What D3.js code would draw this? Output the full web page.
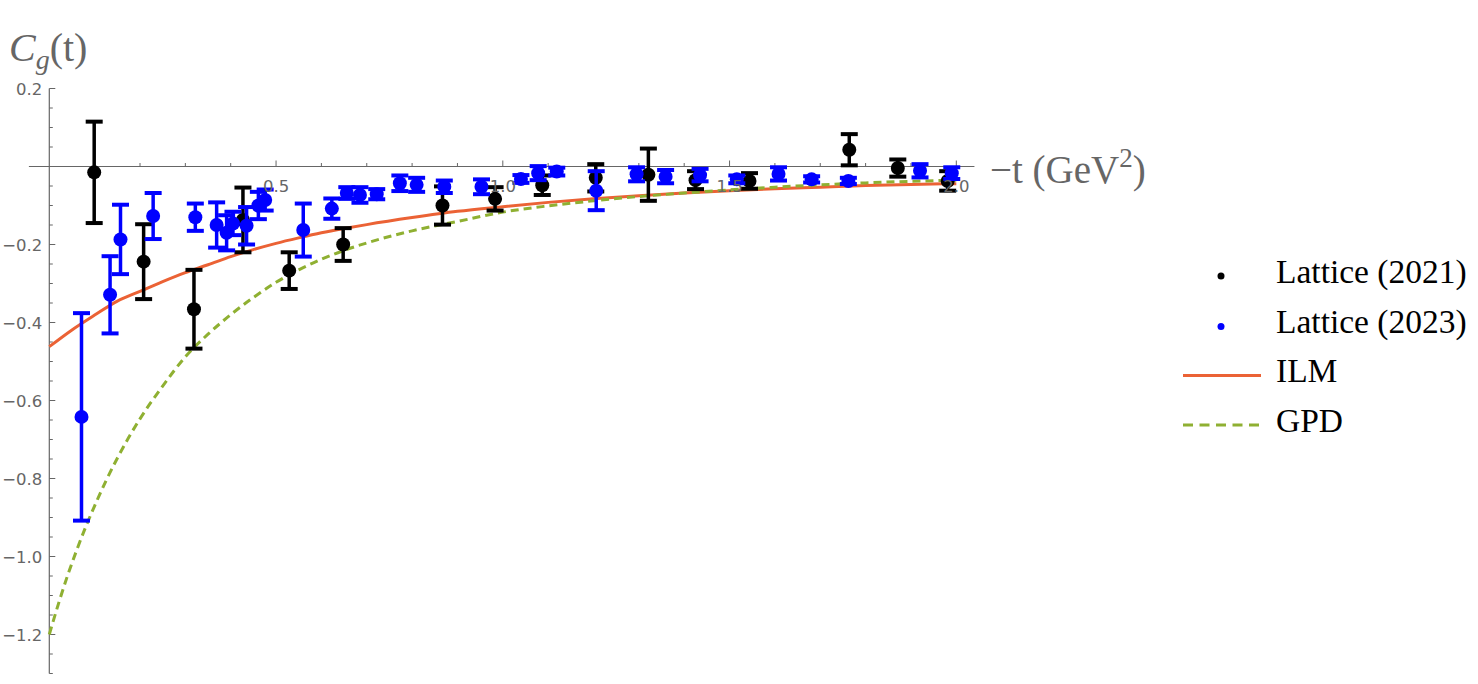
<!DOCTYPE html>
<html>
<head>
<meta charset="utf-8">
<script src="https://cdn.jsdelivr.net/npm/d3@7"></script>
<style>
  body { margin: 0; background: #fff; }
  svg { display: block; }
</style>
</head>
<body>
<svg id="chart" width="1478" height="684"></svg>
<script>
// Lattice (2021): -t in GeV^2, C_g, error
const lat2021T   = [0.099, 0.208, 0.319, 0.427, 0.529, 0.648, 0.867, 0.983, 1.087, 1.205, 1.321, 1.425, 1.544, 1.764, 1.871, 1.981];
const lat2021C   = [-0.015, -0.244, -0.366, -0.137, -0.267, -0.200, -0.100, -0.083, -0.048, -0.029, -0.021, -0.035, -0.037, 0.043, -0.004, -0.037];
const lat2021Err = [0.130, 0.096, 0.101, 0.083, 0.047, 0.042, 0.049, 0.030, 0.025, 0.035, 0.067, 0.023, 0.020, 0.040, 0.022, 0.025];

// Lattice (2023)
const lat2023T   = [0.071, 0.134, 0.157, 0.229, 0.322, 0.369, 0.391, 0.405, 0.435, 0.461, 0.476, 0.560, 0.623, 0.656, 0.685, 0.722,
                    0.773, 0.810, 0.871, 0.953, 1.040, 1.078, 1.119, 1.206, 1.295, 1.359, 1.435, 1.516, 1.608, 1.681, 1.762, 1.920, 1.990];
const lat2023C   = [-0.642, -0.329, -0.187, -0.127, -0.130, -0.150, -0.170, -0.146, -0.152, -0.100, -0.086, -0.163, -0.108, -0.068, -0.073, -0.071,
                    -0.043, -0.047, -0.052, -0.052, -0.032, -0.017, -0.013, -0.062, -0.020, -0.026, -0.022, -0.033, -0.019, -0.033, -0.037, -0.011, -0.017];
const lat2023Err = [0.266, 0.099, 0.089, 0.059, 0.035, 0.058, 0.045, 0.030, 0.048, 0.035, 0.027, 0.068, 0.026, 0.015, 0.020, 0.013,
                    0.020, 0.018, 0.016, 0.019, 0.010, 0.018, 0.010, 0.050, 0.018, 0.017, 0.016, 0.010, 0.017, 0.008, 0.008, 0.017, 0.015];

// ILM curve
const ilmT = [0, 0.05, 0.1, 0.15, 0.2, 0.25, 0.3, 0.35, 0.4, 0.45, 0.5, 0.55, 0.6, 0.65, 0.7, 0.8, 0.9, 1.0, 1.1, 1.2, 1.3, 1.4, 1.5, 1.6, 1.7, 1.8, 1.9, 2.0];
const ilmC = [-0.462, -0.419, -0.381, -0.345, -0.320, -0.295, -0.272, -0.252, -0.231, -0.213, -0.197, -0.183, -0.170, -0.159, -0.149,
              -0.131, -0.115, -0.103, -0.092, -0.083, -0.075, -0.068, -0.062, -0.057, -0.053, -0.049, -0.046, -0.044];

// GPD curve
const gpdT = [0, 0.02, 0.04, 0.06, 0.08, 0.1, 0.125, 0.15, 0.175, 0.2, 0.25, 0.3, 0.35, 0.4, 0.45, 0.5, 0.55, 0.6, 0.65, 0.7, 0.8, 0.9,
              1.0, 1.1, 1.2, 1.3, 1.4, 1.5, 1.6, 1.7, 1.8, 1.9, 2.0];
const gpdC = [-1.200, -1.122, -1.050, -0.985, -0.925, -0.870, -0.806, -0.748, -0.695, -0.647, -0.563, -0.488, -0.430, -0.380, -0.336,
              -0.297, -0.265, -0.238, -0.215, -0.196, -0.165, -0.141, -0.117, -0.101, -0.088, -0.077, -0.068, -0.060, -0.053, -0.047,
              -0.042, -0.038, -0.035];

const xMajorTicks = [0.5, 1.0, 1.5, 2.0];
const xTickLabels = ["0.5", "1.0", "1.5", "2.0"];
const yMajorTicks = [-1.2, -1.0, -0.8, -0.6, -0.4, -0.2, 0.2];
const yTickLabels = ["\u22121.2", "\u22121.0", "\u22120.8", "\u22120.6", "\u22120.4", "\u22120.2", "0.2"];

const legendNames = ["Lattice (2021)", "Lattice (2023)", "ILM", "GPD"];

const ILM_COLOR = "#eb6235";
const GPD_COLOR = "#8fb032";
const AXIS_COLOR = "#666";

const svg = d3.select("#chart");
svg.append("rect").attr("width", 1478).attr("height", 684).attr("fill", "#fff");

// scales: origin of the axes sits at (49.3, 166.5)
const x = d3.scaleLinear().domain([0, 2]).range([49.3, 956.3]);
const y = d3.scaleLinear().domain([-1.3, 0.2]).range([673.5, 88.5]);

// axis lines
const axes = svg.append("g");
axes.append("line")
  .attr("x1", x(-0.045)).attr("x2", x(2.04))
  .attr("y1", y(0)).attr("y2", y(0))
  .attr("stroke", AXIS_COLOR).attr("stroke-width", 1.2);
axes.append("line")
  .attr("x1", x(0)).attr("x2", x(0))
  .attr("y1", y(0.2)).attr("y2", y(-1.3))
  .attr("stroke", AXIS_COLOR).attr("stroke-width", 1.2);

// x ticks (pointing up), minor every 0.1
const xMinor = d3.range(1, 21).map(i => i / 10);
axes.selectAll(".xt").data(xMinor).enter().append("line")
  .attr("x1", d => x(d)).attr("x2", d => x(d))
  .attr("y1", y(0))
  .attr("y2", d => y(0) - (Math.abs(d * 2 - Math.round(d * 2)) < 1e-6 ? 6 : 3.5))
  .attr("stroke", AXIS_COLOR).attr("stroke-width", 1);

// y ticks (pointing right), minor every 0.05
const yMinor = d3.range(-26, 5).map(i => i / 20).filter(d => Math.abs(d) > 1e-6);
axes.selectAll(".yt").data(yMinor).enter().append("line")
  .attr("y1", d => y(d)).attr("y2", d => y(d))
  .attr("x1", x(0))
  .attr("x2", d => x(0) + (Math.abs(d * 5 - Math.round(d * 5)) < 1e-6 ? 6 : 3.5))
  .attr("stroke", AXIS_COLOR).attr("stroke-width", 1);

// curves
const lineGen = d3.line().x(d => x(d[0])).y(d => y(d[1])).curve(d3.curveMonotoneX);

svg.append("path")
  .datum(ilmT.map((t, i) => [t, ilmC[i]]))
  .attr("d", lineGen)
  .attr("fill", "none").attr("stroke", ILM_COLOR).attr("stroke-width", 3);

svg.append("path")
  .datum(gpdT.map((t, i) => [t, gpdC[i]]))
  .attr("d", lineGen)
  .attr("fill", "none").attr("stroke", GPD_COLOR).attr("stroke-width", 3)
  .attr("stroke-dasharray", "8,5");

// error bar points
function drawPoints(ts, cs, errs, color) {
  const pts = ts.map((t, i) => ({ t: t, c: cs[i], e: errs[i] }));
  const g = svg.append("g");
  const cap = 8.5;
  g.selectAll(".bar").data(pts).enter().append("line")
    .attr("x1", d => x(d.t)).attr("x2", d => x(d.t))
    .attr("y1", d => y(d.c + d.e)).attr("y2", d => y(d.c - d.e))
    .attr("stroke", color).attr("stroke-width", 3.5);
  g.selectAll(".capTop").data(pts).enter().append("line")
    .attr("x1", d => x(d.t) - cap).attr("x2", d => x(d.t) + cap)
    .attr("y1", d => y(d.c + d.e)).attr("y2", d => y(d.c + d.e))
    .attr("stroke", color).attr("stroke-width", 4);
  g.selectAll(".capBot").data(pts).enter().append("line")
    .attr("x1", d => x(d.t) - cap).attr("x2", d => x(d.t) + cap)
    .attr("y1", d => y(d.c - d.e)).attr("y2", d => y(d.c - d.e))
    .attr("stroke", color).attr("stroke-width", 4);
  g.selectAll(".dot").data(pts).enter().append("circle")
    .attr("cx", d => x(d.t)).attr("cy", d => y(d.c)).attr("r", 7)
    .attr("fill", color);
}
drawPoints(lat2021T, lat2021C, lat2021Err, "#000");
drawPoints(lat2023T, lat2023C, lat2023Err, "#0000ff");

// tick labels, drawn in front
const labels = svg.append("g")
  .attr("font-family", "'DejaVu Sans', Verdana, sans-serif")
  .attr("font-size", 16.5).attr("fill", AXIS_COLOR);
labels.selectAll(".xl").data(xMajorTicks).enter().append("text")
  .attr("x", d => x(d)).attr("y", y(0) + 25)
  .attr("text-anchor", "middle")
  .text((d, i) => xTickLabels[i]);
labels.selectAll(".yl").data(yMajorTicks).enter().append("text")
  .attr("x", x(0) - 7).attr("y", d => y(d) + 6)
  .attr("text-anchor", "end")
  .text((d, i) => yTickLabels[i]);

// axis titles
const yTitle = svg.append("text")
  .attr("x", 9).attr("y", 61)
  .attr("font-family", "'Liberation Serif', 'Times New Roman', serif")
  .attr("font-size", 40).attr("fill", AXIS_COLOR);
yTitle.append("tspan").attr("font-style", "italic").text("C");
yTitle.append("tspan").attr("font-style", "italic").attr("font-size", 28).attr("dy", 8).text("g");
yTitle.append("tspan").attr("dy", -8).text("(t)");

const xTitle = svg.append("text")
  .attr("x", 990).attr("y", 183)
  .attr("font-family", "'Liberation Serif', 'Times New Roman', serif")
  .attr("font-size", 39).attr("fill", AXIS_COLOR);
xTitle.append("tspan").text("\u2212t (GeV");
xTitle.append("tspan").attr("font-size", 27).attr("dy", -16).text("2");
xTitle.append("tspan").attr("dy", 16).text(")");

// legend
const legend = svg.append("g")
  .attr("font-family", "'Liberation Serif', 'Times New Roman', serif")
  .attr("font-size", 33.5).attr("fill", "#000");
const rowY = [276, 326.5, 375.5, 425];
legend.append("circle").attr("cx", 1221).attr("cy", rowY[0]).attr("r", 3.5).attr("fill", "#000");
legend.append("circle").attr("cx", 1221).attr("cy", rowY[1]).attr("r", 3.5).attr("fill", "#0000ff");
legend.append("line").attr("x1", 1183).attr("x2", 1261).attr("y1", rowY[2]).attr("y2", rowY[2])
  .attr("stroke", ILM_COLOR).attr("stroke-width", 3);
legend.append("line").attr("x1", 1183).attr("x2", 1261).attr("y1", rowY[3]).attr("y2", rowY[3])
  .attr("stroke", GPD_COLOR).attr("stroke-width", 3).attr("stroke-dasharray", "10,6.5");
legend.selectAll(".lt").data(legendNames).enter().append("text")
  .attr("x", 1276).attr("y", (d, i) => rowY[i] + 6.5)
  .text(d => d);
</script>
</body>
</html>
